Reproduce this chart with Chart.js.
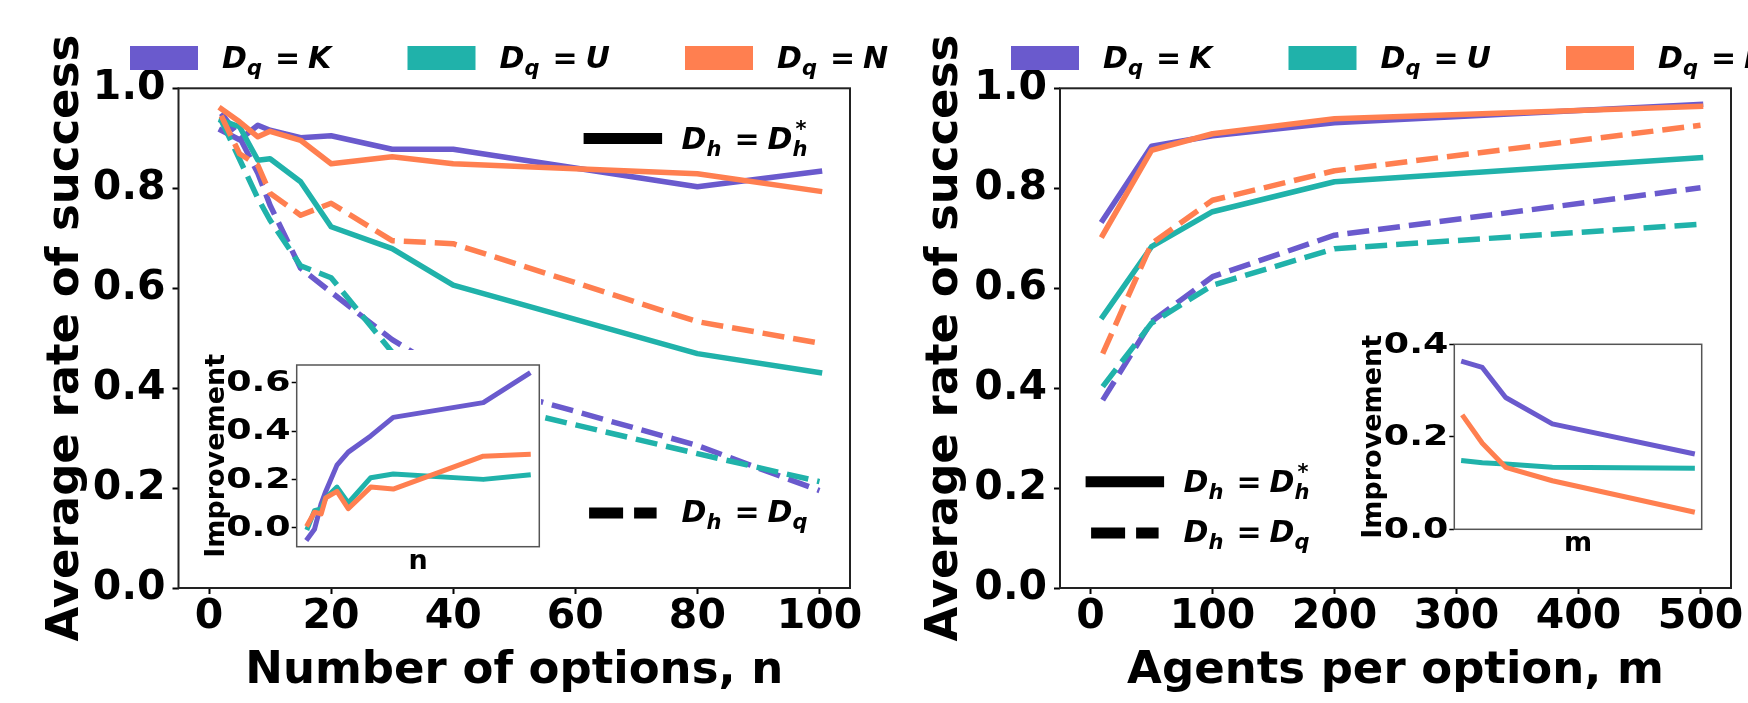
<!DOCTYPE html>
<html>
<head>
<meta charset="utf-8">
<script src="https://cdn.jsdelivr.net/npm/chart.js@4.4.0/dist/chart.umd.min.js"></script>
<style>
  body { margin: 0; background: #fff; width: 1748px; height: 703px; overflow: hidden; position: relative; }
  canvas { position: absolute; }
</style>
</head>
<body>
<canvas id="mainN" width="1748" height="703" style="left:0;top:0"></canvas>
<canvas id="mainM" width="1748" height="703" style="left:0;top:0"></canvas>
<canvas id="insetN" width="346" height="235" style="left:195px;top:350px"></canvas>
<canvas id="insetM" width="352" height="230" style="left:1352px;top:330px"></canvas>
<script>
// ---- data ----
const seriesNames = ['K', 'U', 'N'];
const seriesColors = ['#6A5ACD', '#20B2AA', '#FF7F50'];

// left panel: number of options n
const nValues = [2, 5, 8, 10, 15, 20, 30, 40, 80, 100];
const kStarN = [0.916, 0.897, 0.926, 0.916, 0.901, 0.905, 0.878, 0.878, 0.803, 0.834];
const kSameN = [0.950, 0.902, 0.830, 0.766, 0.640, 0.592, 0.497, 0.422, 0.285, 0.195];
const uStarN = [0.936, 0.923, 0.856, 0.859, 0.813, 0.723, 0.679, 0.606, 0.469, 0.431];
const uSameN = [0.936, 0.858, 0.780, 0.736, 0.645, 0.621, 0.472, 0.384, 0.269, 0.213];
const nStarN = [0.959, 0.933, 0.903, 0.914, 0.896, 0.849, 0.863, 0.849, 0.829, 0.794];
const nSameN = [0.945, 0.869, 0.846, 0.790, 0.746, 0.770, 0.695, 0.689, 0.533, 0.490];
// inset: improvement
const kGainN = [-0.045, -0.007, 0.100, 0.150, 0.259, 0.313, 0.380, 0.457, 0.518, 0.637];
const uGainN = [0.000, 0.070, 0.078, 0.123, 0.168, 0.102, 0.207, 0.222, 0.200, 0.218];
const nGainN = [0.014, 0.064, 0.057, 0.123, 0.150, 0.079, 0.168, 0.160, 0.296, 0.304];

// right panel: agents per option m
const mValues = [10, 50, 100, 200, 500];
const kStarM = [0.736, 0.884, 0.905, 0.931, 0.968];
const kSameM = [0.376, 0.533, 0.623, 0.706, 0.801];
const uStarM = [0.543, 0.683, 0.753, 0.813, 0.861];
const uSameM = [0.403, 0.530, 0.606, 0.679, 0.728];
const nStarM = [0.706, 0.876, 0.909, 0.939, 0.964];
const nSameM = [0.469, 0.689, 0.776, 0.835, 0.926];
const kGainM = [0.362, 0.350, 0.285, 0.228, 0.164];
const uGainM = [0.148, 0.144, 0.141, 0.134, 0.132];
const nGainM = [0.243, 0.186, 0.134, 0.105, 0.038];

// tick labels
const yTicks = [0, 0.2, 0.4, 0.6, 0.8, 1.0];
const nTicks = [0, 20, 40, 60, 80, 100];
const mTicks = [0, 100, 200, 300, 400, 500];
const gainTicksN = [0, 0.2, 0.4, 0.6];
const gainTicksM = [0, 0.2, 0.4];

const FONT = '"DejaVu Sans", sans-serif';
Chart.defaults.font.family = FONT;
Chart.defaults.font.weight = 'bold';
Chart.defaults.color = '#000';

function xy(xs, ys) {
  return xs.map((x, i) => ({x: x, y: ys[i]}));
}

function lineSet(xs, ys, color, lw, dash) {
  return {
    data: xy(xs, ys), borderColor: color, borderWidth: lw, borderDash: dash,
    borderCapStyle: dash.length ? 'butt' : 'square', borderJoinStyle: 'round',
    pointRadius: 0, fill: false, tension: 0
  };
}

// draw a small mathtext-like string piece by piece
function drawMath(ctx, x, y, parts) {
  let prevX = x;
  parts.forEach(p => {
    ctx.font = (p.it ? 'italic ' : '') + 'bold ' + p.s + 'px ' + FONT;
    let px = p.stack ? prevX + 3 : x + (p.dx || 0);
    ctx.fillText(p.t, px, y + (p.dy || 0));
    if (!p.stack) {
      prevX = px;
      x = px + ctx.measureText(p.t).width;
    }
  });
}

function dqLabel(name) {
  return [{t: 'D', s: 30, it: 1}, {t: 'q', s: 21, dy: 7, it: 1},
          {t: '=', s: 30, dx: 13}, {t: name, s: 30, dx: 8, it: 1}];
}
const dhStar = [{t: 'D', s: 30, it: 1}, {t: 'h', s: 21, dy: 7, it: 1},
                {t: '=', s: 30, dx: 13}, {t: 'D', s: 30, dx: 8, it: 1},
                {t: 'h', s: 21, dy: 7, it: 1}, {t: '*', s: 21, dy: -13, it: 1, stack: 1}];
const dhSame = [{t: 'D', s: 30, it: 1}, {t: 'h', s: 21, dy: 7, it: 1},
                {t: '=', s: 30, dx: 13}, {t: 'D', s: 30, dx: 8, it: 1},
                {t: 'q', s: 21, dy: 7, it: 1}];

const framePlugin = {
  id: 'frame',
  beforeDraw(chart, args, o) {
    if (o.background) {
      chart.ctx.save();
      chart.ctx.fillStyle = '#fff';
      chart.ctx.fillRect(0, 0, chart.width, chart.height);
      chart.ctx.restore();
    }
  },
  afterDatasetsDraw(chart, args, o) {
    const a = chart.chartArea, ctx = chart.ctx;
    ctx.save();
    ctx.strokeStyle = o.color;
    ctx.lineWidth = o.width;
    ctx.strokeRect(a.left, a.top, a.right - a.left, a.bottom - a.top);
    ctx.restore();
  }
};

const mathLegend = {
  id: 'mathLegend',
  afterDraw(chart, args, o) {
    const ctx = chart.ctx;
    ctx.save();
    ctx.textBaseline = 'alphabetic';
    seriesNames.forEach((nm, i) => {
      const px = o.topX + i * 277.5;
      ctx.fillStyle = seriesColors[i];
      ctx.fillRect(px, 46, 68, 24);
      ctx.fillStyle = '#000';
      drawMath(ctx, px + 92, 68, dqLabel(nm));
    });
    ctx.strokeStyle = '#000';
    ctx.lineWidth = 11;
    // solid entry
    ctx.lineCap = 'square';
    ctx.beginPath();
    ctx.moveTo(o.lineX + 5.5, o.solidY);
    ctx.lineTo(o.lineX + 73, o.solidY);
    ctx.stroke();
    drawMath(ctx, o.lineX + 98, o.solidY + 10, dhStar);
    // dashed entry
    ctx.lineCap = 'butt';
    ctx.setLineDash([34, 11]);
    ctx.beginPath();
    ctx.moveTo(o.lineX + 5.5, o.dashY);
    ctx.lineTo(o.lineX + 73, o.dashY);
    ctx.stroke();
    ctx.setLineDash([]);
    drawMath(ctx, o.lineX + 98, o.dashY + 9, dhSame);
    ctx.restore();
  }
};

// inset tick labels are drawn wide, as in the figure
const wideTicks = {
  id: 'wideTicks',
  afterDraw(chart) {
    const s = chart.scales.y, ctx = chart.ctx;
    ctx.save();
    ctx.font = 'bold 28px ' + FONT;
    ctx.fillStyle = '#000';
    ctx.textAlign = 'right';
    ctx.textBaseline = 'middle';
    s.ticks.forEach(t => {
      ctx.save();
      ctx.translate(chart.chartArea.left - 6, s.getPixelForValue(t.value) + 1);
      ctx.scale(1.3, 1);
      ctx.fillText(t.value.toFixed(1), 0, 0);
      ctx.restore();
    });
    ctx.restore();
  }
};

function mainChart(id, xs, solid, dashed, cfg) {
  const datasets = [];
  for (let i = 0; i < 3; i++) {
    datasets.push(lineSet(xs, solid[i], seriesColors[i], 5.5, []));
    datasets.push(lineSet(xs, dashed[i], seriesColors[i], 5.5, [22, 9]));
  }
  datasets.reverse(); // first series ends up underneath
  const tickGrid = {display: true, drawOnChartArea: false, drawTicks: true, tickLength: 6,
                    tickColor: '#000', tickWidth: 2};
  return new Chart(document.getElementById(id), {
    type: 'line',
    data: {datasets: datasets},
    options: {
      responsive: false, animation: false, devicePixelRatio: 1,
      layout: {padding: {left: cfg.canvasLeft, top: 88.3, right: 1748 - cfg.right, bottom: 0}},
      plugins: {
        legend: {display: false}, tooltip: {enabled: false},
        frame: {color: '#222', width: 2},
        mathLegend: cfg.legend
      },
      scales: {
        x: {
          type: 'linear', min: cfg.xMin, max: cfg.xMax,
          afterBuildTicks: s => { s.ticks = cfg.xTicks.map(v => ({value: v})); },
          afterFit: s => { s.height = 703 - 588; s.paddingLeft = 0; s.paddingRight = 0; },
          grid: tickGrid, border: {display: false},
          ticks: {font: {size: 41, weight: 'bold', lineHeight: 1}, padding: 3, maxRotation: 0,
                  autoSkip: false, callback: v => String(v)},
          title: {display: true, text: cfg.xTitle, font: {size: 45, weight: 'bold'},
                  padding: {top: 0, bottom: 5}}
        },
        y: {
          type: 'linear', min: 0, max: 1,
          afterBuildTicks: s => { s.ticks = yTicks.map(v => ({value: v})); },
          afterFit: s => { s.width = cfg.left - cfg.canvasLeft; s.paddingTop = 0; s.paddingBottom = 0; },
          grid: tickGrid, border: {display: false},
          ticks: {font: {size: 41, weight: 'bold'}, padding: 7, callback: v => v.toFixed(1)},
          title: {display: true, text: 'Average rate of success', font: {size: 45, weight: 'bold'},
                  padding: {top: cfg.yTitlePad, bottom: 0}}
        }
      }
    },
    plugins: [framePlugin, mathLegend]
  });
}

function insetChart(id, xs, gains, cfg) {
  const datasets = gains.map((g, i) => lineSet(xs, g, seriesColors[i], 5, [])).reverse();
  return new Chart(document.getElementById(id), {
    type: 'line',
    data: {datasets: datasets},
    options: {
      responsive: false, animation: false, devicePixelRatio: 1,
      layout: {padding: {left: 0, top: cfg.top, right: cfg.right, bottom: 0}},
      plugins: {
        legend: {display: false}, tooltip: {enabled: false},
        frame: {color: '#555', width: 1.5, background: true}
      },
      scales: {
        x: {
          type: 'linear', min: cfg.xMin, max: cfg.xMax,
          afterFit: s => { s.height = cfg.xHeight; s.paddingLeft = 0; s.paddingRight = 0; },
          grid: {display: false}, border: {display: false},
          ticks: {display: false},
          title: {display: true, text: cfg.xTitle, font: {size: 27, weight: 'bold'},
                  padding: {top: 0, bottom: cfg.xTitlePad}}
        },
        y: {
          type: 'linear', min: cfg.yMin, max: cfg.yMax,
          afterBuildTicks: s => { s.ticks = cfg.yTicks.map(v => ({value: v})); },
          afterFit: s => { s.width = cfg.yWidth; s.paddingTop = 0; s.paddingBottom = 0; },
          grid: {display: true, drawOnChartArea: false, drawTicks: true, tickLength: 5,
                 tickColor: '#000', tickWidth: 1.5},
          border: {display: false},
          ticks: {display: false},
          title: {display: true, text: 'Improvement', font: {size: 27, weight: 'bold'},
                  padding: {top: 6, bottom: 0}}
        }
      }
    },
    plugins: [framePlugin, wideTicks]
  });
}

mainChart('mainN', nValues, [kStarN, uStarN, nStarN], [kSameN, uSameN, nSameN], {
  canvasLeft: 0, left: 178.5, right: 850, xMin: -5, xMax: 105, xTicks: nTicks,
  xTitle: 'Number of options, n', yTitlePad: 39,
  legend: {topX: 130, lineX: 583.6, solidY: 138.5, dashY: 513}
});

mainChart('mainM', mValues, [kStarM, uStarM, nStarM], [kSameM, uSameM, nSameM], {
  canvasLeft: 880, left: 1060, right: 1731, xMin: -25, xMax: 525, xTicks: mTicks,
  xTitle: 'Agents per option, m', yTitlePad: 38,
  legend: {topX: 1011, lineX: 1085.6, solidY: 481.7, dashY: 533}
});

insetChart('insetN', nValues, [kGainN, uGainN, nGainN], {
  top: 15, right: 1.7, xHeight: 38.3, yWidth: 101.7,
  xMin: -2.9, xMax: 104.9, yMin: -0.079, yMax: 0.674, yTicks: gainTicksN,
  xTitle: 'n', xTitlePad: 6.8
});

insetChart('insetM', mValues, [kGainM, uGainM, nGainM], {
  top: 14.3, right: 2.3, xHeight: 30.7, yWidth: 102.3,
  xMin: -10, xMax: 520, yMin: 0, yMax: 0.4, yTicks: gainTicksM,
  xTitle: 'm', xTitlePad: 0
});
</script>
</body>
</html>
